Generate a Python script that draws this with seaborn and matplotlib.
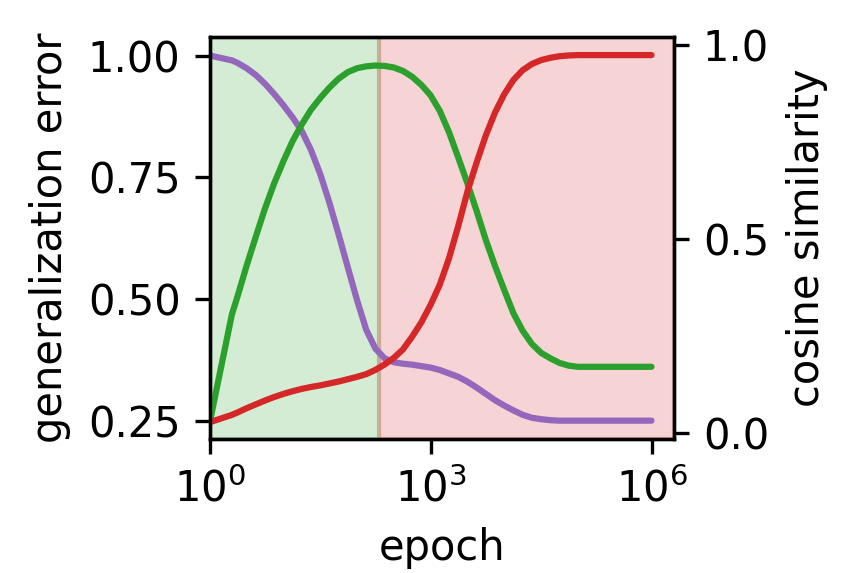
import numpy as np
import pandas as pd
import seaborn as sns
from matplotlib import pyplot as plt

# epochs as log10 values, curves at those epochs
log_epoch = [0, 0.301, 0.375, 0.5, 0.625, 0.75, 0.875, 1.0, 1.125, 1.25, 1.375,
             1.5, 1.625, 1.75, 1.875, 2.0, 2.125, 2.25, 2.375, 2.5, 2.625, 2.75,
             2.875, 3.0, 3.125, 3.25, 3.375, 3.5, 3.625, 3.75, 3.875, 4.0, 4.125,
             4.25, 4.375, 4.5, 4.625, 4.75, 4.875, 5.0, 5.5, 6.0]
gen_error = [1.000, 0.990, 0.985, 0.974, 0.960, 0.942, 0.921, 0.898, 0.873, 0.845,
             0.806, 0.757, 0.698, 0.633, 0.565, 0.498, 0.437, 0.398, 0.378, 0.370,
             0.367, 0.365, 0.362, 0.359, 0.354, 0.347, 0.340, 0.330, 0.318, 0.305,
             0.292, 0.281, 0.271, 0.262, 0.256, 0.253, 0.251, 0.250, 0.250, 0.250,
             0.250, 0.250]
cos_green = [0.026, 0.305, 0.350, 0.430, 0.505, 0.578, 0.643, 0.700, 0.752, 0.795,
             0.833, 0.863, 0.890, 0.913, 0.930, 0.940, 0.945, 0.947, 0.946, 0.942,
             0.933, 0.918, 0.897, 0.870, 0.830, 0.775, 0.710, 0.643, 0.572, 0.497,
             0.430, 0.368, 0.308, 0.263, 0.229, 0.206, 0.192, 0.180, 0.173, 0.170,
             0.170, 0.170]
cos_red = [0.027, 0.046, 0.052, 0.063, 0.073, 0.083, 0.092, 0.100, 0.107, 0.113,
           0.118, 0.122, 0.127, 0.132, 0.138, 0.144, 0.151, 0.162, 0.176, 0.193,
           0.215, 0.248, 0.285, 0.330, 0.382, 0.450, 0.533, 0.622, 0.697, 0.767,
           0.826, 0.873, 0.910, 0.935, 0.951, 0.961, 0.967, 0.971, 0.973, 0.974,
           0.974, 0.974]
phase_split = 200

df = pd.DataFrame({'epoch': 10 ** np.array(log_epoch),
                   'gen_error': gen_error,
                   'cos_green': cos_green,
                   'cos_red': cos_red})

sns.set_style('ticks', {'axes.edgecolor': 'black', 'xtick.color': 'black',
                        'ytick.color': 'black', 'text.color': 'black',
                        'axes.labelcolor': 'black'})
plt.rcParams['font.family'] = ['DejaVu Sans']
plt.rcParams['font.size'] = 10

fig = plt.figure(figsize=(856 / 300, 573 / 300), dpi=300)
ax = fig.add_axes([0.245, 0.234, 0.542, 0.701])
ax2 = ax.twinx()

ax.axvspan(1, phase_split, color='tab:green', alpha=0.2, zorder=0)
ax.axvspan(phase_split, 2e6, color='tab:red', alpha=0.2, zorder=0)

sns.lineplot(data=df, x='epoch', y='gen_error', color='tab:purple', lw=1.5, ax=ax)
sns.lineplot(data=df, x='epoch', y='cos_green', color='tab:green', lw=1.5, ax=ax2)
sns.lineplot(data=df, x='epoch', y='cos_red', color='tab:red', lw=1.5, ax=ax2)

ax.set_xscale('log')
ax.set_xlim(1, 2e6)
ax.set_xticks([1, 1e3, 1e6])
ax.minorticks_off()
ax2.minorticks_off()
ax.set_ylim(0.2125, 1.0375)
ax.set_yticks([0.25, 0.5, 0.75, 1.0])
ax2.set_ylim(-0.016, 1.02)
ax2.set_yticks([0, 0.5, 1.0])
ax.set_xlabel('epoch')
ax.set_ylabel('generalization error')
ax2.set_ylabel('cosine similarity')

fig.savefig('out.png', dpi=300)
